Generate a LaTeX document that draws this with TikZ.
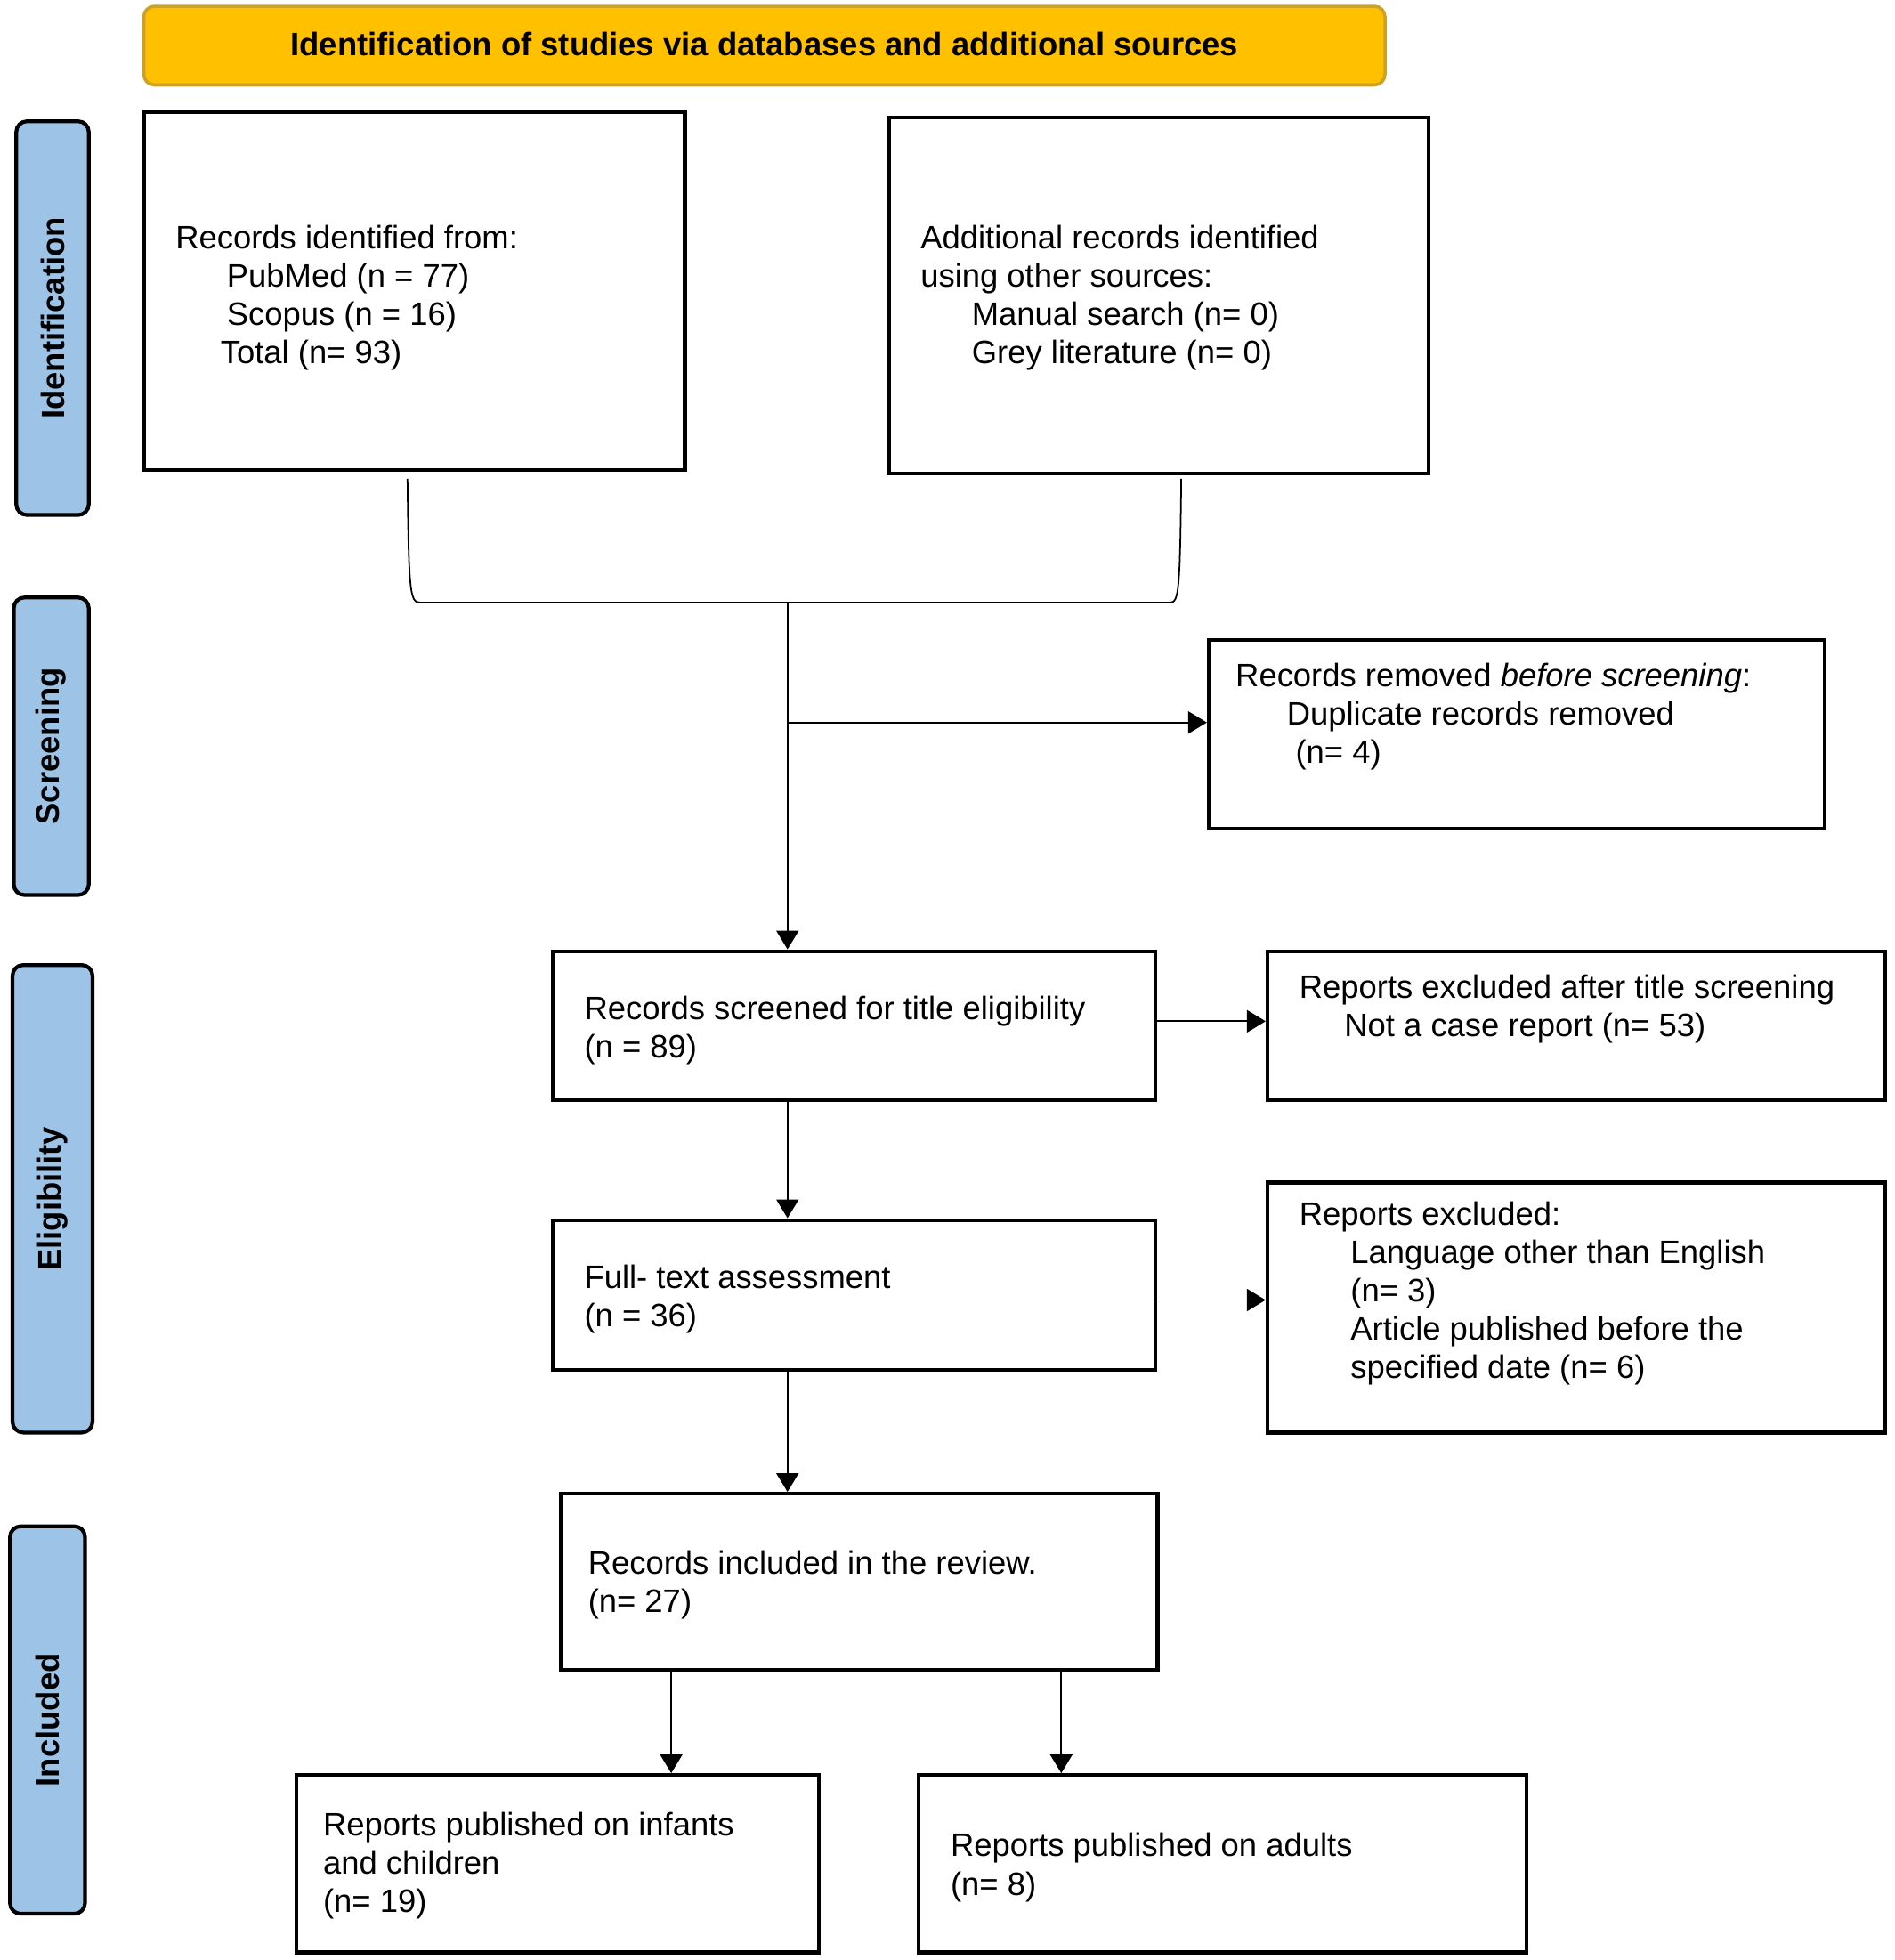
\documentclass[tikz,border=0pt]{standalone}
\usepackage{fontspec}
\setmainfont{Liberation Sans}
\usetikzlibrary{arrows.meta,fit,calc}
\newlength\pxu
\setlength\pxu{0.014037cm}
\newcommand\ind[1]{\hspace*{#1\pxu}}
\definecolor{titlefill}{RGB}{255,192,0}
\definecolor{titleedge}{RGB}{205,160,40}
\definecolor{sidefill}{RGB}{157,195,230}
\begin{document}
\begin{tikzpicture}[x=0.014037cm,y=-0.014037cm,
  box/.style={draw=black, line width=1.2pt, inner sep=0pt},
  side/.style={draw=black, fill=sidefill, line width=1.2pt, rounded corners=0.12cm, inner sep=0pt},
  titlebar/.style={draw=titleedge, fill=titlefill, line width=1pt, rounded corners=0.12cm, inner sep=0pt},
  txt/.style={font=\fontsize{10.36pt}{12.25pt}\selectfont, align=left, inner sep=0pt, anchor=west, yshift=-0.042cm},
  boldtxt/.style={font=\fontsize{10.36pt}{12.25pt}\selectfont\bfseries, inner sep=0pt},
  conn/.style={draw=black, line width=0.5pt},
  arr/.style={conn, -{Triangle[width=0.25cm,length=0.21cm]}}
]
\useasboundingbox (0,0) rectangle (1516,1568);

% title
\node[titlebar, fit={(115,5)(1108,68)}] (T) {};
\node[boldtxt, yshift=0.02cm] (Tt) at (T.center) {Identification of studies via databases and additional sources};

% side labels
\node[side, fit={(13,97)(71,412)}] (S1) {};
\node[boldtxt, rotate=90] (S1t) at (S1.center) {Identification};
\node[side, fit={(11,478)(71,716)}] (S2) {};
\node[boldtxt, rotate=90] (S2t) at (S2.center) {Screening};
\node[side, fit={(10,772)(74,1146)}] (S3) {};
\node[boldtxt, rotate=90] (S3t) at (S3.center) {Eligibility};
\node[side, fit={(8,1221)(68,1531)}] (S4) {};
\node[boldtxt, rotate=90] (S4t) at (S4.center) {Included};

% boxes
\node[box, fit={(115,90)(548,376)}] (A) {};
\node[txt] (At) at (140,235) {Records identified from:\\\ind{41}PubMed (n = 77)\\\ind{41}Scopus (n = 16)\\\ind{36}Total (n= 93)};

\node[box, fit={(711,94)(1143,379)}] (B) {};
\node[txt] (Bt) at (736,235) {Additional records identified\\using other sources:\\\ind{41}Manual search (n= 0)\\\ind{41}Grey literature (n= 0)};

\node[box, fit={(967,512)(1460,663)}] (D) {};
\node[txt] (Dt) at (988,570) {Records removed \textit{before screening}:\\\ind{41}Duplicate records removed\\\ind{48}(n= 4)};

\node[box, fit={(442,761)(924,880)}] (C) {};
\node[txt] (Ct) at (467,821) {Records screened for title eligibility\\(n = 89)};

\node[box, fit={(1014,761)(1508,880)}] (E) {};
\node[txt] (Et) at (1039,804.5) {Reports excluded after title screening\\\ind{36}Not a case report (n= 53)};

\node[box, fit={(442,976)(924,1096)}] (F) {};
\node[txt] (Ft) at (467,1036) {Full- text assessment\\(n = 36)};

\node[box, fit={(1014,946)(1508,1146)}] (G) {};
\node[txt] (Gt) at (1039,1031.5) {Reports excluded:\\\ind{41}Language other than English\\\ind{41}(n= 3)\\\ind{41}Article published before the\\\ind{41}specified date (n= 6)};

\node[box, fit={(449,1195)(926,1336)}] (H) {};
\node[txt] (Ht) at (470,1265) {Records included in the review.\\(n= 27)};

\node[box, fit={(237,1420)(655,1562)}] (I) {};
\node[txt] (It) at (258,1489.5) {Reports published on infants\\and children\\(n= 19)};

\node[box, fit={(735,1420)(1221,1562)}] (J) {};
\node[txt] (Jt) at (760,1491) {Reports published on adults\\(n= 8)};

% connectors
\coordinate (a1) at (326,383);
\coordinate (a2) at (336,482);
\coordinate (b1) at (945,383);
\coordinate (b2) at (936,482);
\coordinate (j) at (630,482);
\coordinate (k) at (630,578);
\coordinate (xI) at (537,0);
\coordinate (xJ) at (849,0);

\draw[conn] (a1) .. controls (327,474) and (328,482) .. (a2) -- (b2) .. controls (943,482) and (944,474) .. (b1);
\draw[arr] (j) -- (j |- C.north);
\draw[arr] (k) -- (k -| D.west);
\draw[arr] ($(C.east)+(0,-3.5)$) coordinate (c1) -- (c1 -| E.west);
\draw[arr] (C.south -| j) -- (F.north -| j);
\draw[arr] ($(F.east)+(0,4)$) coordinate (f1) -- (f1 -| G.west);
\draw[arr] (F.south -| j) -- (H.north -| j);
\draw[arr] (H.south -| xI) -- (I.north -| xI);
\draw[arr] (H.south -| xJ) -- (J.north -| xJ);
\end{tikzpicture}
\end{document}
